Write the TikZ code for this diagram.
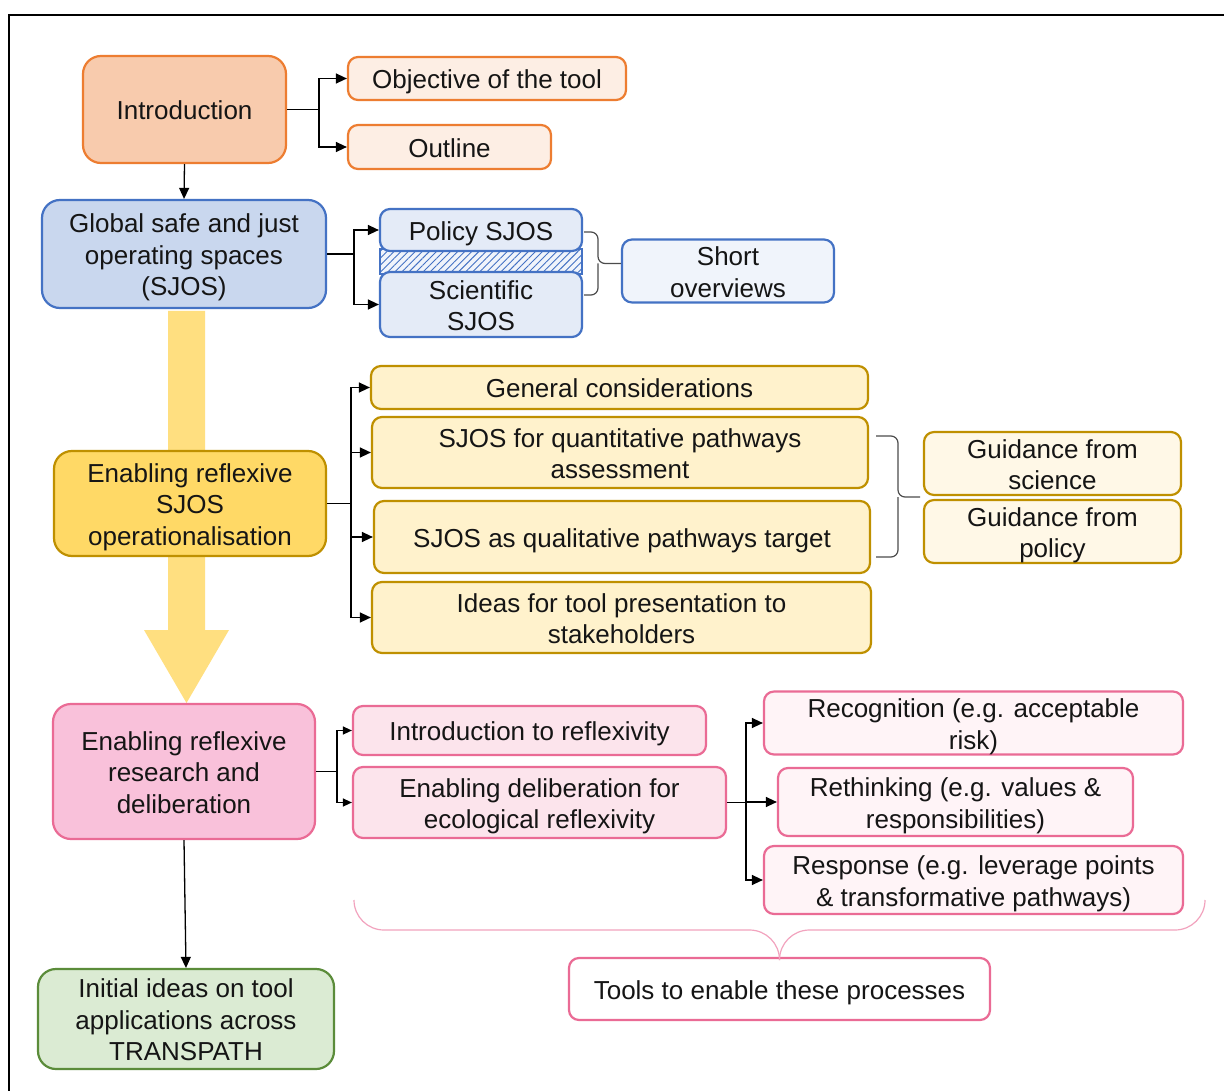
\documentclass[tikz,border=0pt]{standalone}
\usepackage{fontspec}
\setmainfont{Liberation Sans}
\usetikzlibrary{arrows.meta,patterns.meta}
\newcommand{\stru}{\rule[-0.21em]{0pt}{1.21em}}
\definecolor{txt}{HTML}{151515}
\definecolor{orS}{HTML}{ED7D31}
\definecolor{orF}{HTML}{F8CBAD}
\definecolor{orL}{HTML}{FDEEE4}
\definecolor{blS}{HTML}{4472C4}
\definecolor{blF}{HTML}{C9D7EE}
\definecolor{blL}{HTML}{E4EBF7}
\definecolor{blLL}{HTML}{F0F4FB}
\definecolor{ySt}{HTML}{BF9000}
\definecolor{yF}{HTML}{FFD966}
\definecolor{yL}{HTML}{FFF2CC}
\definecolor{yLL}{HTML}{FFF8E7}
\definecolor{yArr}{HTML}{FFDF80}
\definecolor{pS}{HTML}{EA6B95}
\definecolor{pF}{HTML}{F9C1DA}
\definecolor{pL}{HTML}{FCE4EC}
\definecolor{pLL}{HTML}{FFF4F7}
\definecolor{pBr}{HTML}{F2A3BE}
\definecolor{gS}{HTML}{5B8C3A}
\definecolor{gF}{HTML}{DBEBD3}
\begin{document}
\begin{tikzpicture}[x=1pt,y=-1pt,
  box/.style={draw, line width=2.2pt, rounded corners=10pt, inner sep=0pt, align=center,
    font=\fontsize{26}{31.5}\selectfont, text=txt},
  bigbox/.style={box, rounded corners=18pt},
  conn/.style={line width=1.3pt, draw=black},
  arr/.style={conn, -{Triangle[length=11pt,width=10pt]}},
  sarr/.style={conn, -{Triangle[length=9pt,width=8pt]}},
  bracket/.style={line width=1.2pt, draw=black!70, rounded corners=7pt}
]
\useasboundingbox (0,0) rectangle (1224,1091);
\fill[white] (0,0) rectangle (1224,1091);
\draw[line width=2.6pt] (9,1091) -- (9,15) -- (1224,15);

% big yellow arrow
\fill[yArr] (168,311) -- (205,311) -- (205,630) -- (229,630) -- (186.5,703) -- (144,630) -- (168,630) -- cycle;

% Introduction group
\node[bigbox, draw=orS, fill=orF, minimum width=203pt, minimum height=107pt] (intro) at (184.5,109.5) {\stru Introduction\stru};
\node[box, draw=orS, fill=orL, minimum width=278pt, minimum height=43pt] (obj) at (487,78.5) {\stru Objective of the tool\stru};
\node[box, draw=orS, fill=orL, minimum width=203pt, minimum height=44pt] (outl) at (449.5,147) {\stru Outline\stru};
\draw[arr] (intro.east) -- ++(32,0) |- (obj.west);
\draw[arr] (intro.east) -- ++(32,0) |- (outl.west);

% SJOS group
\node[bigbox, draw=blS, fill=blF, minimum width=284pt, minimum height=108pt] (gsjos) at (184,254) {\stru Global safe and just\\operating spaces\\(SJOS)\stru};
\draw[arr] (intro.south) -- (gsjos.north);
\filldraw[draw=blS, line width=2pt, fill=blLL] (380,249) rectangle (582,274);
\fill[pattern={Lines[angle=45,distance=5pt,line width=0.9pt]}, pattern color=blS] (381,250) rectangle (581,273);
\node[box, draw=blS, fill=blL, minimum width=202pt, minimum height=42pt] (pol) at (481,230) {\stru Policy SJOS\stru};
\node[box, draw=blS, fill=blL, minimum width=202pt, minimum height=65pt] (sci) at (481,304.5) {\stru Scientific\\SJOS\stru};
\node[box, draw=blS, fill=blLL, minimum width=212pt, minimum height=62pt] (short) at (728,271) {\stru Short\\overviews\stru};
\draw[arr] (gsjos.east) -- ++(27,0) |- (pol.west);
\draw[arr] (gsjos.east) -- ++(27,0) |- (sci.west);
\coordinate (b1) at (598,263.5);
\draw[bracket] (584,232) -- (598,232) -- (b1) -- (b1 -| short.west);
\draw[bracket] (584,295) -- (598,295) -- (b1);

% Operationalisation group
\node[bigbox, draw=ySt, fill=yF, minimum width=272pt, minimum height=105pt] (esjos) at (190,503.5) {\stru Enabling reflexive\\SJOS\\operationalisation\stru};
\node[box, draw=ySt, fill=yL, minimum width=497pt, minimum height=43pt] (gen) at (619.5,387.5) {\stru General considerations\stru};
\node[box, draw=ySt, fill=yL, minimum width=496pt, minimum height=71pt] (quant) at (620,452.5) {\stru SJOS for quantitative pathways\\assessment\stru};
\node[box, draw=ySt, fill=yL, minimum width=496pt, minimum height=72pt] (qual) at (622,537) {\stru SJOS as qualitative pathways target\stru};
\node[box, draw=ySt, fill=yL, minimum width=499pt, minimum height=71pt] (ideas) at (621.5,617.5) {\stru Ideas for tool presentation to\\stakeholders\stru};
\node[box, draw=ySt, fill=yLL, minimum width=257pt, minimum height=61pt] (gsci) at (1052.5,463.5) {\stru Guidance from\\science\stru};
\node[box, draw=ySt, fill=yLL, minimum width=257pt, minimum height=61pt] (gpol) at (1052.5,531.5) {\stru Guidance from\\policy\stru};
\draw[arr] (esjos.east) -- ++(24,0) |- (gen.west);
\draw[arr] (esjos.east) -- ++(24,0) |- (quant.west);
\draw[arr] (esjos.east) -- ++(24,0) |- (qual.west);
\draw[arr] (esjos.east) -- ++(24,0) |- (ideas.west);
\coordinate (b2) at (898,497);
\draw[bracket] (876,436) -- (898,436) -- (b2) -- (920,497);
\draw[bracket] (876,557) -- (898,557) -- (b2);

% Reflexivity group
\node[bigbox, draw=pS, fill=pF, minimum width=262pt, minimum height=135pt] (erd) at (184,771.5) {\stru Enabling reflexive\\research and\\deliberation\stru};
\node[box, draw=pS, fill=pL, minimum width=353pt, minimum height=49pt] (iref) at (529.5,730.5) {\stru Introduction to reflexivity\stru};
\node[box, draw=pS, fill=pL, minimum width=373pt, minimum height=71pt] (edel) at (539.5,802.5) {\stru Enabling deliberation for\\ecological reflexivity\stru};
\node[box, draw=pS, fill=pLL, minimum width=419pt, minimum height=62pt] (recog) at (973.5,723) {\stru Recognition (e.g. acceptable\\risk)\stru};
\node[box, draw=pS, fill=pLL, minimum width=355pt, minimum height=68pt] (reth) at (955.5,802) {\stru Rethinking (e.g. values \&\\responsibilities)\stru};
\node[box, draw=pS, fill=pLL, minimum width=419pt, minimum height=68pt] (resp) at (973.5,880) {\stru Response (e.g. leverage points\\\& transformative pathways)\stru};
\node[box, draw=pS, fill=white, minimum width=421pt, minimum height=62pt] (tools) at (779.5,989) {\stru Tools to enable these processes\stru};
\draw[sarr] (erd.east) -- ++(21,0) |- (iref.west);
\draw[sarr] (erd.east) -- ++(21,0) |- (edel.west);
\draw[arr] (edel.east) -- ++(19,0) |- (recog.west);
\draw[arr] (edel.east) -- ++(19,0) |- (reth.west);
\draw[arr] (edel.east) -- ++(19,0) |- (resp.west);
\draw[line width=1.2pt, draw=pBr, rounded corners=30pt] (354,900) -- (354,930) -- (tools.north |- 0,930) -- (tools.north);
\draw[line width=1.2pt, draw=pBr, rounded corners=30pt] (1205,900) -- (1205,930) -- (tools.north |- 0,930) -- (tools.north);

% Final
\node[bigbox, draw=gS, fill=gF, minimum width=296pt, minimum height=100pt] (init) at (186,1019) {\stru Initial ideas on tool\\applications across\\TRANSPATH\stru};
\draw[arr] (erd.south) -- (init.north);
\end{tikzpicture}
\end{document}
